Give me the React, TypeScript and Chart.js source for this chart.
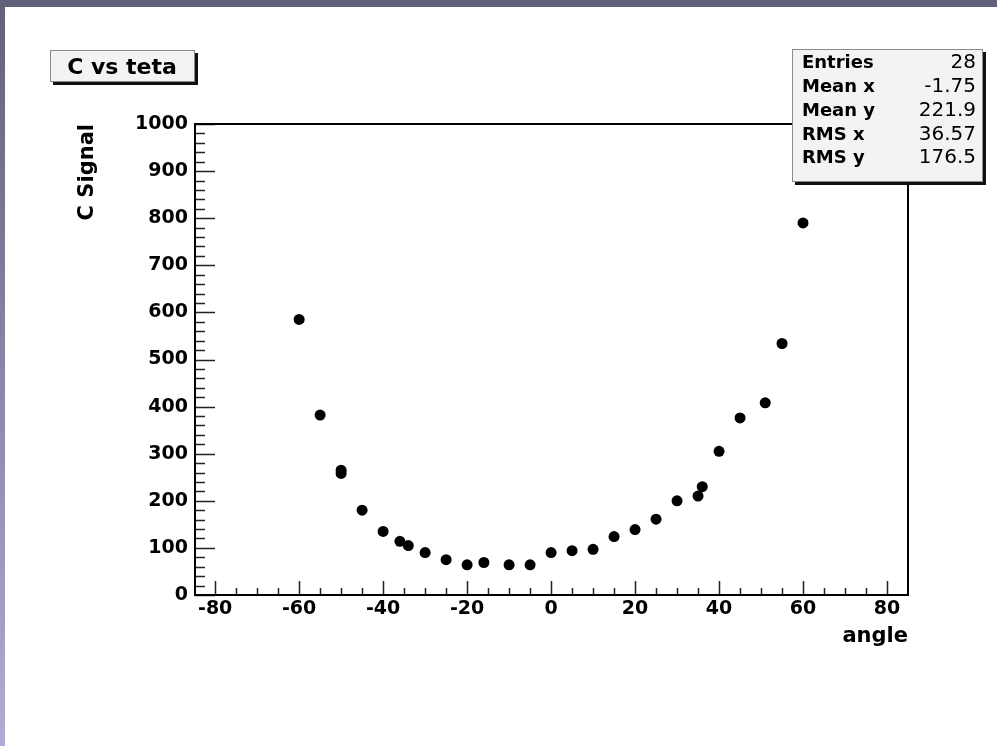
import React, { useEffect, useRef } from "react";
import { Chart, registerables } from "chart.js";

Chart.register(...registerables);

// ---- data ----
const ANGLES = [-60, -55, -50, -50, -45, -40, -36, -34, -30, -25, -20, -16, -10, -5, 0, 5, 10, 15, 20, 25, 30, 35, 36, 40, 45, 51, 55, 60];
const SIGNAL = [585, 382, 265, 258, 180, 135, 114, 105, 90, 75, 64, 69, 64, 64, 90, 94, 97, 124, 139, 161, 200, 210, 230, 305, 376, 408, 534, 790];
const X_TICKS = [-80, -60, -40, -20, 0, 20, 40, 60, 80];
const Y_TICKS = [0, 100, 200, 300, 400, 500, 600, 700, 800, 900, 1000];
const TITLE = "C vs teta";
const STAT_LABELS = ["Entries", "Mean x", "Mean y", "RMS x", "RMS y"];
const STAT_VALUES = ["28", "-1.75", "221.9", "36.57", "176.5"];
const X_TITLE = "angle";
const Y_TITLE = "C Signal";

const FONT = "'DejaVu Sans', sans-serif";

const decorPlugin = {
  id: "decor",
  beforeDraw(chart: any) {
    const { ctx, width, height } = chart;
    ctx.save();
    ctx.fillStyle = "#ffffff";
    ctx.fillRect(0, 0, width, height);
    const g = ctx.createLinearGradient(0, 0, 0, height);
    g.addColorStop(0, "#62617c");
    g.addColorStop(1, "#aeacda");
    ctx.fillStyle = g;
    ctx.fillRect(0, 0, 5, height);
    ctx.fillStyle = "#62617c";
    ctx.fillRect(0, 0, width, 7);
    ctx.restore();
  },
  afterDraw(chart: any) {
    const { ctx, chartArea } = chart;
    const xs = chart.scales.x;
    const ys = chart.scales.y;
    const { left, right, top, bottom } = chartArea;
    ctx.save();
    // ticks
    ctx.strokeStyle = "#222";
    ctx.lineWidth = 1.5;
    ctx.beginPath();
    for (let v = -80; v <= 80; v += 5) {
      const px = Math.round(xs.getPixelForValue(v)) + 0.5;
      const len = v % 20 === 0 ? 14 : 7;
      ctx.moveTo(px, bottom);
      ctx.lineTo(px, bottom - len);
    }
    for (let v = 0; v <= 1000; v += 20) {
      const py = Math.round(ys.getPixelForValue(v)) + 0.5;
      const len = v % 100 === 0 ? 20 : 10;
      ctx.moveTo(left, py);
      ctx.lineTo(left + len, py);
    }
    ctx.stroke();
    // frame
    ctx.strokeStyle = "#000";
    ctx.lineWidth = 2;
    ctx.strokeRect(left, top, right - left, bottom - top);

    const box = (x: number, y: number, w: number, h: number) => {
      ctx.fillStyle = "#111";
      ctx.fillRect(x + 3, y + 3, w, h);
      ctx.fillStyle = "#f3f3f3";
      ctx.fillRect(x, y, w, h);
      ctx.strokeStyle = "#8a8a8a";
      ctx.lineWidth = 1;
      ctx.strokeRect(x + 0.5, y + 0.5, w - 1, h - 1);
    };
    // title box
    box(50, 50, 145, 32);
    ctx.fillStyle = "#000";
    ctx.font = `bold 22px ${FONT}`;
    ctx.textAlign = "center";
    ctx.textBaseline = "middle";
    ctx.fillText(TITLE, 122, 68);
    // stats box
    box(792, 49, 191, 133);
    const rows = [63, 87, 111, 135, 158];
    ctx.textBaseline = "middle";
    STAT_LABELS.forEach((lab, i) => {
      ctx.fillStyle = "#000";
      ctx.font = `bold 18px ${FONT}`;
      ctx.textAlign = "left";
      ctx.fillText(lab, 802, rows[i]);
      ctx.font = `500 20px ${FONT}`;
      ctx.textAlign = "right";
      ctx.fillText(STAT_VALUES[i], 976, rows[i]);
    });
    ctx.restore();
  },
};

export default function App() {
  const ref = useRef<HTMLCanvasElement>(null);
  useEffect(() => {
    if (!ref.current) return;
    const chart = new Chart(ref.current, {
      type: "scatter",
      data: {
        datasets: [
          {
            data: ANGLES.map((a, i) => ({ x: a, y: SIGNAL[i] })),
            pointRadius: 5.5,
            pointBackgroundColor: "#000",
            pointBorderWidth: 0,
            showLine: false,
          },
        ],
      },
      options: {
        responsive: false,
        animation: false,
        devicePixelRatio: 1,
        layout: { padding: { left: 0, top: 124, right: 89, bottom: 86 } },
        plugins: { legend: { display: false }, tooltip: { enabled: false } },
        events: [],
        scales: {
          x: {
            type: "linear",
            min: -84.8,
            max: 85,
            afterBuildTicks: (s: any) => {
              s.ticks = X_TICKS.map((v) => ({ value: v }));
            },
            afterFit: (s: any) => {
              s.height = 65;
            },
            grid: { display: false, drawTicks: false },
            border: { display: false },
            ticks: {
              color: "#000",
              font: { family: FONT, weight: "bold", size: 19 },
              padding: 3,
              maxRotation: 0,
              autoSkip: false,
              callback: (v: any) => String(v),
            },
            title: {
              display: true,
              text: X_TITLE,
              align: "end",
              color: "#000",
              font: { family: FONT, weight: "bold", size: 21 },
              padding: { top: 0, bottom: 11 },
            },
          },
          y: {
            type: "linear",
            min: 0,
            max: 1000,
            afterBuildTicks: (s: any) => {
              s.ticks = Y_TICKS.map((v) => ({ value: v }));
            },
            afterFit: (s: any) => {
              s.width = 195;
            },
            grid: { display: false, drawTicks: false },
            border: { display: false },
            ticks: {
              color: "#000",
              font: { family: FONT, weight: "bold", size: 19 },
              padding: 7,
              autoSkip: false,
              callback: (v: any) => String(v),
            },
            title: {
              display: true,
              text: Y_TITLE,
              align: "end",
              color: "#000",
              font: { family: FONT, weight: "bold", size: 21 },
              padding: { top: 75, bottom: 0 },
            },
          },
        },
      } as any,
      plugins: [decorPlugin],
    });
    return () => chart.destroy();
  }, []);
  return (
    <div style={{ position: "fixed", left: 0, top: 0, width: 997, height: 746 }}>
      <canvas ref={ref} width={997} height={746} style={{ display: "block" }} />
    </div>
  );
}
